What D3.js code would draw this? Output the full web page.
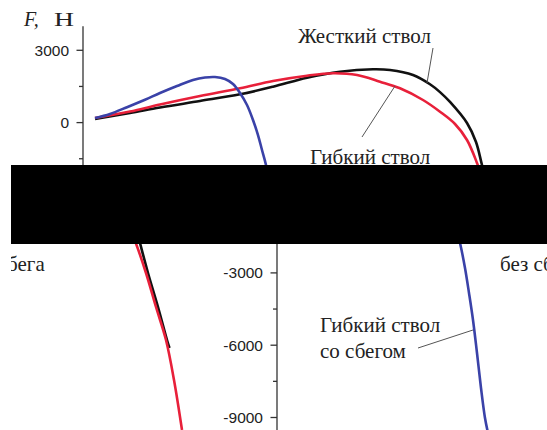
<!DOCTYPE html>
<html><head><meta charset="utf-8">
<script src="https://cdn.jsdelivr.net/npm/d3@7"></script>
<style>body{margin:0;background:#fff}svg{display:block}</style>
</head><body>
<svg id="c" width="547" height="430"></svg>
<script>
// ---- data (x: arbitrary position units, F in Н) ----
const yTicksMajor = [3000, 0, -3000, -6000, -9000];
const yTicksMinor = [1500, -1500, -4500, -7500];
const yLabel = "F,";
const yUnit = "Н";

const rigidX = [0, 35, 65, 105, 145, 178, 212, 245, 278, 295, 318, 335, 345, 355, 372, 381, 387, 395, 405, 414, 416.5];
const rigidF = [149, 398, 627, 896, 1174, 1490, 1863, 2112, 2211, 2182, 1975, 1590, 1265, 855, -17, -805, -1759, -3004, -4415, -5784, -6116];

const flexX = [0, 35, 65, 105, 145, 178, 212, 238, 262, 285, 305, 328, 345, 360, 372, 382, 393, 403, 413, 421, 429];
const flexF = [191, 461, 751, 1104, 1423, 1726, 1946, 2045, 1975, 1697, 1423, 938, 452, -58, -722, -1676, -3004, -4415, -5784, -7443, -9518];

const taperX = [0, 15, 32, 50, 65, 82, 98, 110, 120, 130, 138, 145, 152, 158, 163, 167, 171, 176, 180, 184, 188, 192, 196, 199];
const taperF = [191, 360, 640, 950, 1228, 1519, 1768, 1871, 1892, 1809, 1602, 1228, 730, 108, -515, -1137, -1759, -2797, -3834, -4954, -6324, -7776, -9021, -9643];

const labels = {
  rigid: ["Жесткий ствол"],
  flex: ["Гибкий ствол", "без сбега"],
  taper: ["Гибкий ствол", "со сбегом"]
};

// ---- drawing ----
const svg = d3.select("#c");
const x = d3.scaleLinear().domain([0, 440]).range([95, 535]);
const y = d3.scaleLinear().domain([4000, -10000]).range([26.2, 363.6]);
const line = d3.line().x(d => x(d[0])).y(d => y(d[1])).curve(d3.curveCatmullRom.alpha(0.5));
const zip = (a, b) => a.map((v, i) => [v, b[i]]);

const defs = svg.append("defs");
defs.append("clipPath").attr("id", "cu").append("rect").attr("x", 0).attr("y", 0).attr("width", 547).attr("height", 165);
defs.append("clipPath").attr("id", "cl").append("rect").attr("x", 11).attr("y", 244).attr("width", 536).attr("height", 186);

svg.append("rect").attr("width", 547).attr("height", 430).attr("fill", "#fff");

const serif = "Liberation Serif, Times New Roman, serif";

function drawChart(g, dx, dy, clip) {
  g.attr("transform", `translate(${dx},${dy})`);
  // axis
  const ax = g.append("g").attr("transform", "translate(83,0)");
  ax.append("line").attr("y1", y(4000)).attr("y2", y(-10000)).attr("stroke", "#333").attr("stroke-width", 1.3);
  ax.selectAll("line.maj").data(yTicksMajor).join("line").attr("class", "maj")
    .attr("x1", -6.5).attr("x2", 0).attr("y1", d => y(d)).attr("y2", d => y(d)).attr("stroke", "#333").attr("stroke-width", 1.3);
  ax.selectAll("line.min").data(yTicksMinor).join("line").attr("class", "min")
    .attr("x1", -4).attr("x2", 0).attr("y1", d => y(d)).attr("y2", d => y(d)).attr("stroke", "#333").attr("stroke-width", 1.3);
  ax.selectAll("text").data(yTicksMajor).join("text")
    .attr("x", -14).attr("y", d => y(d)).attr("dy", "0.36em").attr("text-anchor", "end")
    .attr("font-family", "Liberation Sans, Arial, sans-serif").attr("font-size", 15.5).attr("fill", "#222")
    .text(d => d);

  g.append("text").attr("x", 24).attr("y", 26)
    .attr("font-family", serif).attr("font-size", 20).attr("font-style", "italic").attr("fill", "#222").text(yLabel);
  g.append("text").attr("x", 54).attr("y", 26).attr("textLength", 20).attr("lengthAdjust", "spacingAndGlyphs")
    .attr("font-family", serif).attr("font-size", 19).attr("fill", "#222").text(yUnit);

  // curves
  g.append("path").datum(zip(rigidX, rigidF)).attr("d", line).attr("fill", "none").attr("stroke", "#111").attr("stroke-width", 2.6);
  g.append("path").datum(zip(flexX, flexF)).attr("d", line).attr("fill", "none").attr("stroke", "#e8203a").attr("stroke-width", 2.6);
  g.append("path").datum(zip(taperX, taperF)).attr("d", line).attr("fill", "none").attr("stroke", "#3a42a8").attr("stroke-width", 2.6);

  // annotations
  const lead = (x1, y1, x2, y2) => g.append("line").attr("x1", x1).attr("y1", y1).attr("x2", x2).attr("y2", y2)
    .attr("stroke", "#555").attr("stroke-width", 1);
  const txt = (tx, ty, s) => g.append("text").attr("x", tx).attr("y", ty).attr("font-family", serif)
    .attr("font-size", 21).attr("fill", "#222").text(s);
  txt(298, 43, labels.rigid[0]);
  lead(433, 48, 427, 83);
  txt(310, 164, labels.flex[0]);
  txt(306, 193, labels.flex[1]);
  lead(395, 86, 362, 137);
  txt(126, 254, labels.taper[0]);
  txt(126, 280, labels.taper[1]);
  lead(224, 270, 279, 252);

  // keep only texts that are visible in this piece of the picture
  g.selectAll("text").each(function () {
    const b = this.getBBox();
    const p = this.parentNode === g.node() ? [0, 0] : [83, 0];
    const x0 = b.x + p[0] + dx, x1 = x0 + b.width, y0 = b.y + dy, y1 = y0 + b.height;
    const vis = x1 > clip[0] && x0 < clip[0] + clip[2] && y1 - 3 > clip[1] && y0 + 3 < clip[1] + clip[3];
    if (!vis) this.remove();
  });
}

const up = svg.append("g").attr("clip-path", "url(#cu)");
drawChart(up.append("g"), 0, 0, [0, 0, 547, 165]);

const low = svg.append("g").attr("clip-path", "url(#cl)");
drawChart(low.append("g"), 194, 78, [11, 244, 536, 186]);
drawChart(low.append("g"), -342, 78, [11, 244, 536, 186]);

svg.append("rect").attr("x", 11).attr("y", 165).attr("width", 536).attr("height", 79).attr("fill", "#000");
</script>
</body></html>
